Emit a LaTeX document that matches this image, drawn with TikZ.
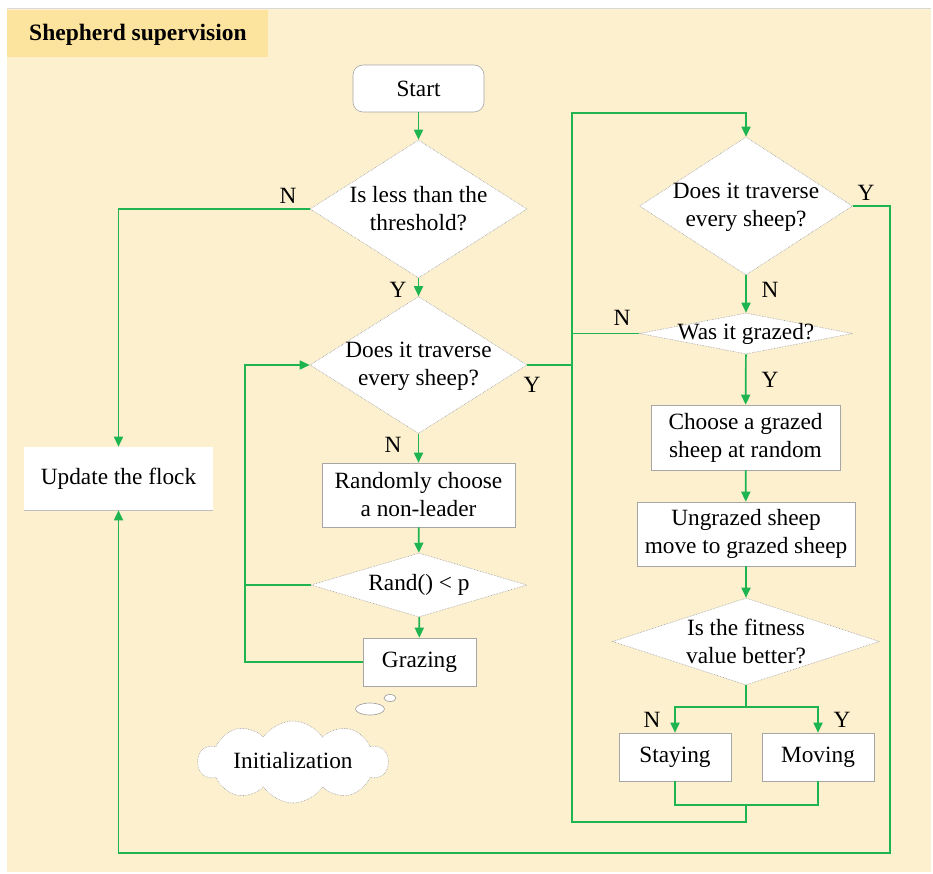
\documentclass[tikz,border=0pt]{standalone}
\usepackage{fontspec}
\setmainfont{Liberation Serif}
\newfontfamily\bodyfont{Liberation Serif}
\usetikzlibrary{shapes.geometric,shapes.symbols,arrows.meta}
\definecolor{paper}{HTML}{FCF0CF}
\definecolor{titlebar}{HTML}{FDE49E}
\definecolor{flowgreen}{RGB}{30,180,80}
\tikzset{
  txt/.style={font=\bodyfont\fontsize{23.3}{28}\selectfont, align=center},
  box/.style={txt, rectangle, fill=white, draw=gray!70, line width=0.6pt, inner sep=0pt},
  dia/.style={diamond, fill=white, draw=gray!80, densely dotted, line width=0.6pt, inner sep=0pt},
  yn/.style={font=\bodyfont\fontsize{23.3}{28}\selectfont, inner sep=0pt},
  flow/.style={draw=flowgreen, line width=1.7pt, -{Triangle[length=10pt,width=9pt]}},
  link/.style={draw=flowgreen, line width=1.7pt},
}
\begin{document}
\begin{tikzpicture}[x=1pt,y=-1pt]
\useasboundingbox (0,0) rectangle (933,874);
% page and title bar
\fill[white] (0,0) rectangle (933,874);
\fill[paper] (7,9) rectangle (931,872);
\draw[gray!30, line width=0.8pt] (7,8.5) -- (931,8.5);
\fill[titlebar] (7,10) rectangle (268,57);
\node[font=\bodyfont\fontsize{23.5}{28}\selectfont\bfseries, anchor=base west, inner sep=0pt] (title) at (29,41) {Shepherd supervision};

% left column
\node[box, rounded corners=10pt, minimum width=131pt, minimum height=47pt] (start) at (418.5,88.5) {Start};
\node[dia, minimum width=217pt, minimum height=138pt] (d1) at (418.5,209) {};
\node[txt] (d1t) at (418.5,209) {Is less than the\\threshold?};
\node[dia, minimum width=217pt, minimum height=137pt] (d2) at (418.5,365) {};
\node[txt] (d2t) at (418.5,366) {Does it traverse\\every sheep?};
\node[box, minimum width=193pt, minimum height=64pt] (rnd) at (418.5,495) {Randomly choose\\a non-leader};
\node[dia, minimum width=216pt, minimum height=64pt] (rp) at (419,585) {};
\node[txt] (rpt) at (419,585) {Rand() < p};
\node[box, minimum width=113pt, minimum height=48pt] (graz) at (419.5,662) {Grazing};
\node[box, draw=none, minimum width=189pt, minimum height=63pt] (upd) at (118.5,478.5) {Update the flock};
\draw[gray!50, line width=0.6pt] (upd.south west) -- (upd.south east);

% thought cloud
\node[cloud, cloud puffs=10, cloud puff arc=115, aspect=2.4, fill=white, draw=gray!80, densely dotted, line width=0.6pt, minimum width=190pt, minimum height=82pt, inner sep=0pt] (cloud) at (293,762) {};
\node[txt] (cloudt) at (293,761) {Initialization};
\node[ellipse, fill=white, draw=gray!80, line width=0.6pt, minimum width=29pt, minimum height=12pt, inner sep=0pt] (bub1) at (370,709) {};
\node[ellipse, fill=white, draw=gray!80, line width=0.6pt, minimum width=12pt, minimum height=7pt, inner sep=0pt] (bub2) at (390,698) {};

% right column
\node[dia, minimum width=213pt, minimum height=138pt] (d4) at (746,206) {};
\node[txt] (d4t) at (746,207) {Does it traverse\\every sheep?};
\node[dia, minimum width=213pt, minimum height=41pt] (d5) at (746,333.5) {};
\node[txt] (d5t) at (746,333.5) {Was it grazed?};
\node[box, minimum width=189pt, minimum height=65pt] (ch) at (745.5,437.5) {Choose a grazed\\sheep at random};
\node[box, minimum width=218pt, minimum height=64pt] (ug) at (746,534) {Ungrazed sheep\\move to grazed sheep};
\node[dia, minimum width=267pt, minimum height=87pt] (d6) at (746,641.5) {};
\node[txt] (d6t) at (746,641.5) {Is the fitness\\value better?};
\node[box, minimum width=112pt, minimum height=48pt] (stay) at (675,757) {Staying};
\node[box, minimum width=112pt, minimum height=48pt] (mov) at (818,757) {Moving};

% corner points of the routing
\coordinate (lp) at (245,662);
\coordinate (tr) at (572,113);
\coordinate (rb) at (890,853);
\coordinate (split) at (746,707);
\coordinate (join) at (746,805);
\coordinate (jd) at (746,822);

% connectors, left column
\draw[flow] (start) -- (d1);
\draw[flow] (d1) -- (d2);
\draw[flow] (d1.west) -| (upd.north);
\draw[flow] (d2) -- (rnd);
\draw[flow] (rnd) -- (rp);
\draw[flow] (rp) -- (graz);
\draw[flow] (graz.west) -- (lp) |- (d2.west);
\draw[link] (rp.west) -- (rp.west -| lp);

% connectors, right column
\draw[flow] (d2.east) -| (tr) -| (d4.north);
\draw[link] (d5.west) -- (d5.west -| tr);
\draw[flow] (d4) -- (d5);
\draw[flow] (d5) -- (ch);
\draw[flow] (ch) -- (ug);
\draw[flow] (ug) -- (d6);
\draw[link] (d6.south) -- (split);
\draw[flow] (split) -| (stay.north);
\draw[flow] (split) -| (mov.north);
\draw[link] (stay.south) |- (join) -| (mov.south);
\draw[link] (join) -- (jd) -| (tr);
\draw[flow] (d4.east) -| (rb) -| (upd.south);

% branch labels
\node[yn] (n1) at (288,196) {N};
\node[yn] (y1) at (398,290) {Y};
\node[yn] (y2) at (532,385) {Y};
\node[yn] (n2) at (393,445) {N};
\node[yn] (y4) at (866,193) {Y};
\node[yn] (n4) at (770,290) {N};
\node[yn] (n5) at (622,318) {N};
\node[yn] (y5) at (770,380) {Y};
\node[yn] (n6) at (652,720) {N};
\node[yn] (y6) at (842,720) {Y};
\end{tikzpicture}
\end{document}
